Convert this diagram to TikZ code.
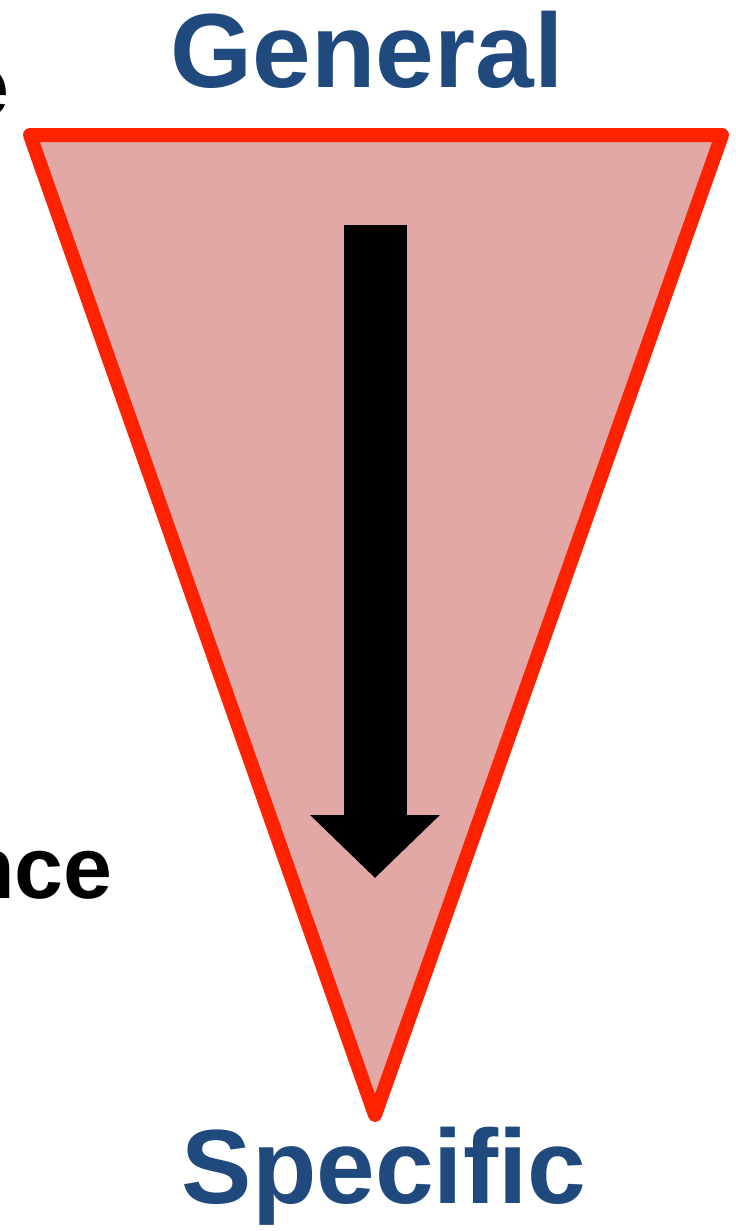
\documentclass[tikz,border=0pt]{standalone}
\usepackage{fontspec}
\setmainfont{Liberation Sans}
\usetikzlibrary{arrows.meta}

\definecolor{titleblue}{RGB}{32,74,126}
\definecolor{funnelred}{RGB}{255,34,0}
\definecolor{funnelfill}{RGB}{225,168,166}

\begin{document}
\begin{tikzpicture}[
    x=0.2mm, y=-0.2mm,
    label/.style={font=\bfseries\fontsize{60}{70}\selectfont, text=titleblue, inner sep=0pt},
    side/.style={font=\bfseries\fontsize{50}{60}\selectfont, text=black, inner sep=0pt},
    funnel/.style={draw=funnelred, fill=funnelfill, line width=2.8mm, line join=round},
    arr/.style={-{Triangle[length=12.6mm, width=25.2mm]}, line width=12.6mm}
]
\useasboundingbox (0,0) rectangle (736,1231);
\clip (0,0) rectangle (736,1231);

% funnel corners
\coordinate (tl) at (30,135);
\coordinate (tr) at (722,135);
\coordinate (bot) at (375,1115);
\draw[funnel] (tl) -- (tr) -- (bot) -- cycle;

% arrow inside
\coordinate (start) at (375,225);
\coordinate (tip) at (375,878);
\draw[arr] (start) -- (tip);

\node[label, anchor=base] (gen) at (367,87) {General};
\node[label, anchor=base] (spec) at (384,1203) {Specific};

% cut-off text on the left
\node[side, anchor=base east] (ce) at (10,116) {e};
\node[side, anchor=base east] (nce) at (113,898) {nce};
\end{tikzpicture}
\end{document}
